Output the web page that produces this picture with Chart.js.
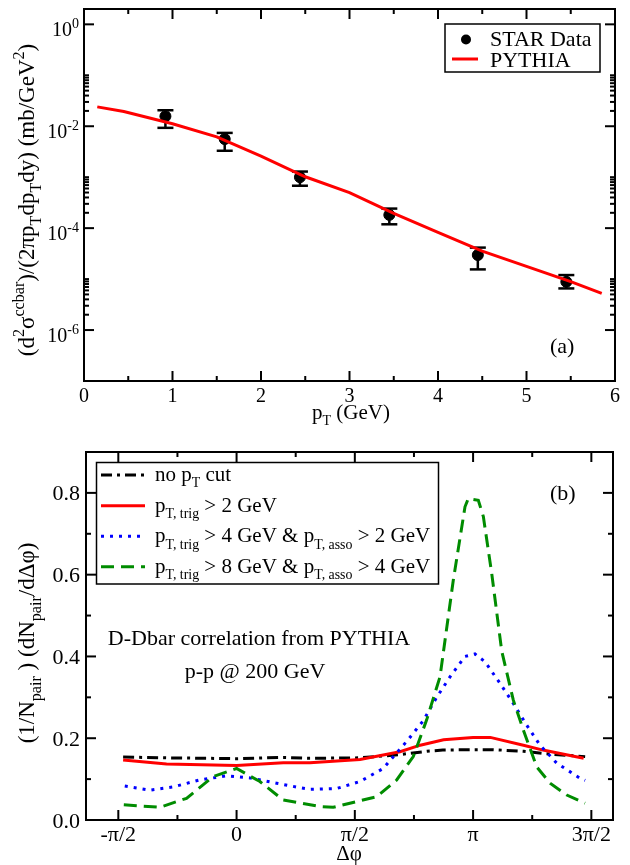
<!DOCTYPE html>
<html><head><meta charset="utf-8">
<script src="https://cdn.jsdelivr.net/npm/chart.js@4"></script>
<style>
html,body{margin:0;padding:0;background:#fff;}
#wrap{position:relative;width:630px;height:865px;background:#fff;}
canvas{position:absolute;left:0;}
#c1{top:0;width:630px;height:430px;}
#c2{top:430px;width:630px;height:435px;}
</style></head><body>
<div id="wrap"><canvas id="c1" width="630" height="430"></canvas><canvas id="c2" width="630" height="435"></canvas></div>
<script>
// ---------- Panel (a) data ----------
const starPt  = [0.92, 1.59, 2.44, 3.45, 4.45, 5.45];
const starVal = [1.57e-2, 5.6e-3, 1.0e-3, 1.82e-4, 2.97e-5, 8.85e-6];
const starHi  = [2.06e-2, 7.4e-3, 1.29e-3, 2.42e-4, 4.15e-5, 1.2e-5];
const starLo  = [9.3e-3, 3.3e-3, 6.8e-4, 1.19e-4, 1.55e-5, 6.56e-6];
const pythiaPt  = [0.15, 0.45, 1.0, 1.5, 2.0, 2.5, 3.0, 3.5, 4.0, 4.5, 5.0, 5.5, 5.85];
const pythiaVal = [2.4e-2, 1.95e-2, 1.12e-2, 6.2e-3, 2.6e-3, 1.02e-3, 5.0e-4, 1.95e-4, 8.3e-5, 3.55e-5, 1.78e-5, 8.9e-6, 5.25e-6];
const aXTicks = [0, 1, 2, 3, 4, 5, 6];
const aYExps = [0, -2, -4, -6];

// ---------- Panel (b) data ----------
const noCutPhi = [-1.507, -0.93, 0, 0.62, 0.974, 1.64, 2.17, 2.53, 2.74, 3.14, 3.41, 3.81, 4.10, 4.63];
const noCutVal = [0.154, 0.152, 0.150, 0.153, 0.151, 0.152, 0.160, 0.168, 0.171, 0.172, 0.172, 0.168, 0.162, 0.155];
const trig2Phi = [-1.507, -0.93, 0, 0.62, 0.974, 1.64, 2.17, 2.44, 2.75, 3.14, 3.37, 3.81, 4.07, 4.61];
const trig2Val = [0.147, 0.137, 0.133, 0.140, 0.140, 0.148, 0.167, 0.183, 0.196, 0.202, 0.202, 0.183, 0.171, 0.151];
const trig4Phi = [-1.485, -1.152, -0.843, -0.488, -0.133, 0.177, 0.532, 0.841, 0.974, 1.329, 1.639, 1.948, 2.281, 2.480, 2.658, 2.835, 3.034, 3.167, 3.300, 3.500, 3.676, 3.854, 4.031, 4.253, 4.563, 4.63];
const trig4Val = [0.083, 0.073, 0.081, 0.098, 0.108, 0.103, 0.090, 0.079, 0.075, 0.077, 0.094, 0.126, 0.197, 0.243, 0.300, 0.350, 0.400, 0.406, 0.387, 0.334, 0.285, 0.232, 0.183, 0.139, 0.102, 0.097];
const trig8Phi = [-1.498, -1.019, -0.665, -0.311, 0, 0.310, 0.619, 1.107, 1.284, 1.861, 2.127, 2.347, 2.525, 2.702, 2.879, 3.034, 3.078, 3.211, 3.278, 3.389, 3.522, 3.676, 3.809, 3.987, 4.164, 4.386, 4.629];
const trig8Val = [0.037, 0.031, 0.053, 0.106, 0.126, 0.094, 0.049, 0.033, 0.031, 0.057, 0.098, 0.155, 0.245, 0.350, 0.587, 0.766, 0.786, 0.782, 0.742, 0.603, 0.413, 0.293, 0.220, 0.130, 0.090, 0.061, 0.041];
const bXTickVals = [-Math.PI/2, 0, Math.PI/2, Math.PI, 3*Math.PI/2];
const bXTickLabels = ['-\u03c0/2', '0', '\u03c0/2', '\u03c0', '3\u03c0/2'];
const bXMinor = [-Math.PI/4, Math.PI/4, 3*Math.PI/4, 5*Math.PI/4];
const bYTicks = [0, 0.2, 0.4, 0.6, 0.8];
const bYMinor = [0.1, 0.3, 0.5, 0.7];

const FONT = "'Liberation Serif','Times New Roman',serif";
function font(sz){ return sz + 'px ' + FONT; }
let SMALL = 0.66;
function richWidth(ctx, segs, size){
  let w = 0;
  for (const s of segs){ ctx.font = font(s[1] ? size*SMALL : size); w += ctx.measureText(s[0]).width; }
  return w;
}
function drawRich(ctx, segs, x, y, size, align, small){
  const prev = SMALL; if (small) SMALL = small;
  const w = richWidth(ctx, segs, size);
  let cx = align === 'center' ? x - w/2 : align === 'right' ? x - w : x;
  ctx.textAlign = 'left'; ctx.textBaseline = 'alphabetic'; ctx.fillStyle = '#000';
  for (const s of segs){
    const sz = s[1] ? size*SMALL : size;
    ctx.font = font(sz);
    const dy = s[1] === 1 ? size*0.3 : s[1] === 2 ? -size*0.42 : 0;
    ctx.fillText(s[0], cx, y + dy);
    cx += ctx.measureText(s[0]).width;
  }
  SMALL = prev;
}
function line(ctx, x1, y1, x2, y2){ ctx.beginPath(); ctx.moveTo(x1,y1); ctx.lineTo(x2,y2); ctx.stroke(); }
function xTicks(ctx, sc, a, vals, len){
  for (const v of vals){ const p = sc.getPixelForValue(v); line(ctx, p, a.bottom, p, a.bottom-len); line(ctx, p, a.top, p, a.top+len); }
}
function yTicks(ctx, sc, a, vals, len){
  for (const v of vals){ const p = sc.getPixelForValue(v); line(ctx, a.left, p, a.left+len, p); line(ctx, a.right, p, a.right-len, p); }
}

// ---------- Panel (a) ----------
const plugA = {
  id: 'plugA',
  beforeDatasetsDraw(chart){
    const ctx = chart.ctx, xs = chart.scales.x, ys = chart.scales.y;
    ctx.save(); ctx.strokeStyle = '#000'; ctx.lineWidth = 2.5;
    for (let i = 0; i < starPt.length; i++){
      const px = xs.getPixelForValue(starPt[i]);
      const ph = ys.getPixelForValue(starHi[i]), pl = ys.getPixelForValue(starLo[i]);
      line(ctx, px, ph, px, pl); line(ctx, px-8, ph, px+8, ph); line(ctx, px-8, pl, px+8, pl);
    }
    ctx.restore();
  },
  afterDraw(chart){
    const ctx = chart.ctx, a = chart.chartArea, xs = chart.scales.x, ys = chart.scales.y;
    ctx.save();
    ctx.strokeStyle = '#000'; ctx.lineWidth = 2;
    ctx.strokeRect(a.left, a.top, a.right-a.left, a.bottom-a.top);
    xTicks(ctx, xs, a, aXTicks, 10);
    xTicks(ctx, xs, a, [0.5,1.5,2.5,3.5,4.5,5.5], 5);
    yTicks(ctx, ys, a, aYExps.map(e => Math.pow(10,e)), 10);
    const minors = [];
    for (const e of aYExps){ for (let k = 2; k <= 10; k++){ const v = k*Math.pow(10, e-2); if (v > 1e-7) minors.push(v); } }
    yTicks(ctx, ys, a, minors, 5);
    // tick labels
    ctx.fillStyle = '#000';
    for (const v of aXTicks){ drawRich(ctx, [[String(v)]], xs.getPixelForValue(v), 402, 20, 'center'); }
    for (const e of aYExps){ drawRich(ctx, [['10'], [String(e), 2]], 79, ys.getPixelForValue(Math.pow(10,e)) + 12, 20, 'right', 0.7); }
    // axis titles
    drawRich(ctx, [['p'], ['T',1], [' (GeV)']], 351, 419, 21, 'center');
    ctx.save(); ctx.translate(34, 200); ctx.rotate(-Math.PI/2);
    drawRich(ctx, [['(d'], ['2',2], ['\u03c3'], ['ccbar',2], [')/(2\u03c0p'], ['T',1], ['dp'], ['T',1], ['dy) (mb/GeV'], ['2',2], [')']], 0, 0, 23, 'center', 0.7);
    ctx.restore();
    // legend
    ctx.lineWidth = 1.5; ctx.strokeRect(445, 24, 155, 48);
    ctx.beginPath(); ctx.arc(466, 39.5, 5, 0, Math.PI*2); ctx.fillStyle = '#000'; ctx.fill();
    drawRich(ctx, [['STAR Data']], 490, 46, 22, 'left');
    ctx.strokeStyle = '#ff0000'; ctx.lineWidth = 3; line(ctx, 452, 59, 478, 59);
    drawRich(ctx, [['PYTHIA']], 490, 67, 22, 'left');
    drawRich(ctx, [['(a)']], 550, 353, 22, 'left');
    ctx.restore();
  }
};
new Chart(document.getElementById('c1'), {
  type: 'line',
  data: { datasets: [
    { label: 'PYTHIA', data: pythiaPt.map((x,i) => ({x, y: pythiaVal[i]})), borderColor: '#ff0000', borderWidth: 3, pointRadius: 0, fill: false, tension: 0 },
    { label: 'STAR Data', data: starPt.map((x,i) => ({x, y: starVal[i]})), showLine: false, pointRadius: 5.5, pointBackgroundColor: '#000', pointBorderColor: '#000', borderColor: '#000' }
  ]},
  options: {
    responsive: false, animation: false, devicePixelRatio: 1,
    layout: { padding: { left: 84, right: 15, top: 9, bottom: 49 } },
    scales: {
      x: { type: 'linear', min: 0, max: 6, display: false },
      y: { type: 'logarithmic', min: 1e-7, max: 2, display: false }
    },
    plugins: { legend: { display: false }, tooltip: { enabled: false } }
  },
  plugins: [plugA]
});

// ---------- Panel (b) ----------
const bSeries = [
  { name: [['no p'], ['T',1], [' cut']], phi: noCutPhi, val: noCutVal, color: '#000000', dash: [11,5,3,5], order: 3 },
  { name: [['p'], ['T, trig',1], [' > 2 GeV']], phi: trig2Phi, val: trig2Val, color: '#ff0000', dash: [], order: 2 },
  { name: [['p'], ['T, trig',1], [' > 4 GeV & p'], ['T, asso',1], [' > 2 GeV']], phi: trig4Phi, val: trig4Val, color: '#0000ff', dash: [3,6], order: 1 },
  { name: [['p'], ['T, trig',1], [' > 8 GeV & p'], ['T, asso',1], [' > 4 GeV']], phi: trig8Phi, val: trig8Val, color: '#008c00', dash: [13,7], order: 0 }
];
const plugB = {
  id: 'plugB',
  afterDraw(chart){
    const ctx = chart.ctx, a = chart.chartArea, xs = chart.scales.x, ys = chart.scales.y;
    ctx.save();
    ctx.strokeStyle = '#000'; ctx.lineWidth = 2;
    ctx.strokeRect(a.left, a.top, a.right-a.left, a.bottom-a.top);
    xTicks(ctx, xs, a, bXTickVals, 10);
    xTicks(ctx, xs, a, bXMinor, 5);
    yTicks(ctx, ys, a, bYTicks, 10);
    yTicks(ctx, ys, a, bYMinor, 5);
    bXTickVals.forEach((v,i) => drawRich(ctx, [[bXTickLabels[i]]], xs.getPixelForValue(v), 411, 22, 'center'));
    bYTicks.forEach(v => drawRich(ctx, [[v.toFixed(1)]], 80, ys.getPixelForValue(v) + 7.5, 22, 'right'));
    drawRich(ctx, [['\u0394\u03c6']], 349, 430, 21, 'center');
    ctx.save(); ctx.translate(34, 213); ctx.rotate(-Math.PI/2);
    drawRich(ctx, [['(1/N'], ['pair',1], [' ) (dN'], ['pair',1], ['/d\u0394\u03c6)']], 0, 0, 23, 'center', 0.7);
    ctx.restore();
    // legend
    ctx.strokeStyle = '#000'; ctx.lineWidth = 1.5;
    ctx.strokeRect(96.5, 32.5, 342, 121.5);
    const rowY = [45, 75.7, 106.3, 136.7];
    bSeries.forEach((s,i) => {
      ctx.save(); ctx.strokeStyle = s.color; ctx.lineWidth = 3; ctx.setLineDash(s.dash);
      line(ctx, 101, rowY[i], 145, rowY[i]); ctx.restore();
      drawRich(ctx, s.name, 155, rowY[i] + 6, 21, 'left');
    });
    drawRich(ctx, [['D-Dbar correlation from PYTHIA']], 259, 215, 22, 'center');
    drawRich(ctx, [['p-p @ 200 GeV']], 255, 248, 22, 'center');
    drawRich(ctx, [['(b)']], 550, 70, 22, 'left');
    ctx.restore();
  }
};
new Chart(document.getElementById('c2'), {
  type: 'line',
  data: { datasets: bSeries.map(s => ({
    label: 'series', data: s.phi.map((x,i) => ({x, y: s.val[i]})),
    borderColor: s.color, borderWidth: 3, borderDash: s.dash, pointRadius: 0, fill: false, tension: 0, order: s.order
  }))},
  options: {
    responsive: false, animation: false, devicePixelRatio: 1,
    layout: { padding: { left: 86, right: 17, top: 22, bottom: 45 } },
    scales: {
      x: { type: 'linear', min: -2, max: 5, display: false },
      y: { type: 'linear', min: 0, max: 0.9, display: false }
    },
    plugins: { legend: { display: false }, tooltip: { enabled: false } }
  },
  plugins: [plugB]
});
</script>
</body></html>
